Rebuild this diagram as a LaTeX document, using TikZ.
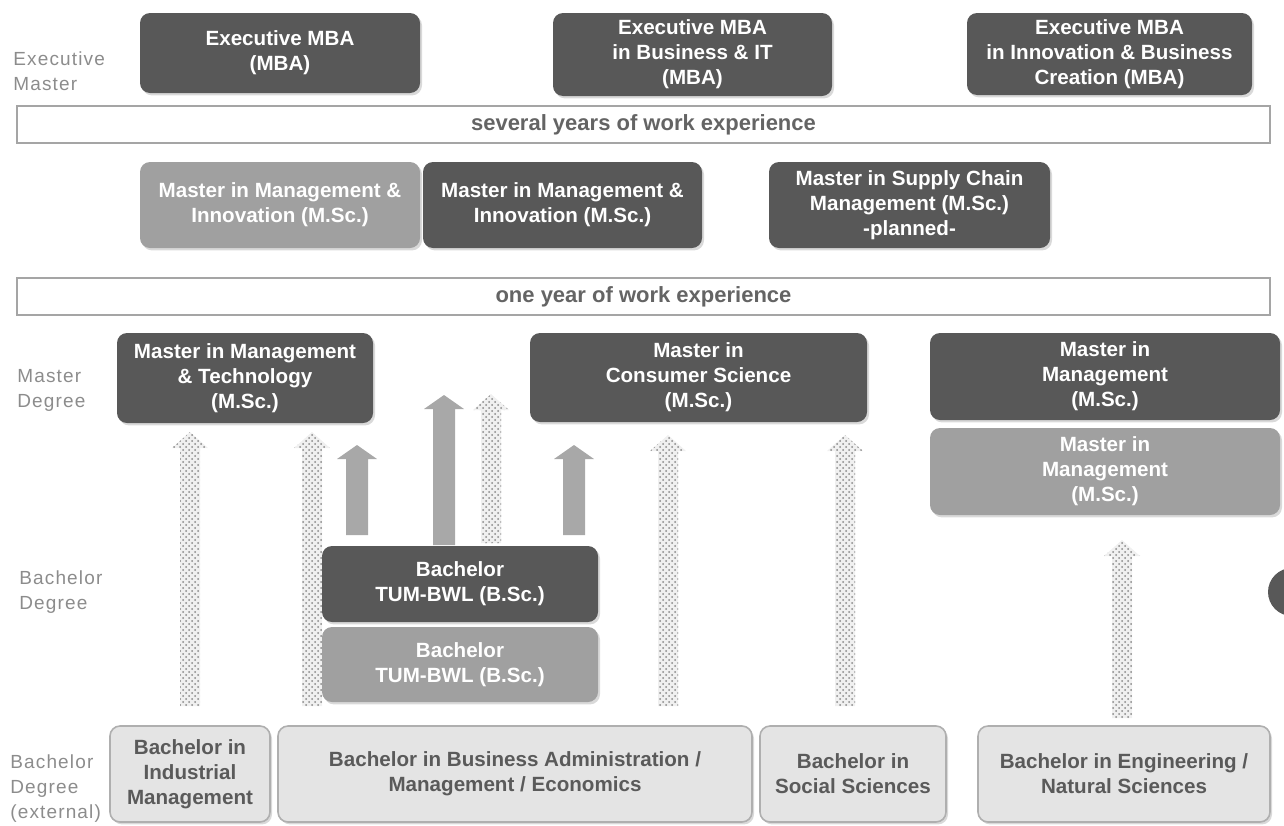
\documentclass[tikz,border=0pt]{standalone}
\usepackage{fontspec}
\setmainfont{Liberation Sans}
\newfontfamily\sidefont[LetterSpace=6]{Liberation Sans}
\usetikzlibrary{shadows, patterns}
\definecolor{boxdark}{RGB}{88,88,88}
\definecolor{boxlight}{RGB}{160,160,160}
\definecolor{boxpale}{RGB}{228,228,228}
\definecolor{paleedge}{RGB}{175,175,175}
\definecolor{basetext}{RGB}{90,90,90}
\definecolor{sidetext}{RGB}{140,140,140}
\definecolor{baredge}{RGB}{165,165,165}
\definecolor{bartext}{RGB}{100,100,100}
\definecolor{arrowgray}{RGB}{168,168,168}
\definecolor{dotgray}{RGB}{135,135,135}
\tikzset{
  softshadow/.style={drop shadow={opacity=0.3, shadow xshift=1pt, shadow yshift=-1.2pt}},
  darkbox/.style={rounded corners=5pt, fill=boxdark, text=white, softshadow},
  lightbox/.style={darkbox, fill=boxlight},
  basebox/.style={rounded corners=5pt, fill=boxpale, draw=paleedge, line width=0.8pt, text=basetext, softshadow},
  expbar/.style={draw=baredge, line width=1.2pt, fill=white, text=bartext, font=\fontsize{11}{13}\selectfont\bfseries},
  sidelabel/.style={font=\sidefont\fontsize{9.5}{12.5}\selectfont, text=sidetext, align=left, anchor=west},
  solidarrow/.style={fill=arrowgray},
  dotarrow/.style={preaction={fill=gray!12}, pattern=crosshatch dots, pattern color=dotgray}
}

\begin{document}
\begin{tikzpicture}[x=0.5pt, y=-0.5pt, every node/.style={font=\fontsize{10.3}{12.5}\selectfont\bfseries, align=center, inner sep=0pt}]
  \useasboundingbox (0,0) rectangle (1284,825);

  % dotted arrows (external entry paths)
  \foreach \ax/\ab/\at in {190/706/432, 312/706/432, 491/543/394, 668/706/435, 845/706/435, 1122/718/540}{
    \fill[dotarrow] (\ax-10,\ab) -- (\ax-10,\at+16) -- (\ax-18,\at+16) -- (\ax,\at)
      -- (\ax+18,\at+16) -- (\ax+10,\at+16) -- (\ax+10,\ab) -- cycle;
  }
  % solid arrows out of TUM-BWL
  \foreach \ax/\ab/\at in {357/535/445, 444/545/395, 574/535/445}{
    \fill[solidarrow] (\ax-11,\ab) -- (\ax-11,\at+14) -- (\ax-20,\at+14) -- (\ax,\at)
      -- (\ax+20,\at+14) -- (\ax+11,\at+14) -- (\ax+11,\ab) -- cycle;
  }

  % side labels
  \node[sidelabel] (lexec) at (13,71) {Executive\\Master};
  \node[sidelabel] (lmaster) at (17,390) {Master\\Degree};
  \node[sidelabel] (lbach) at (19,592) {Bachelor\\Degree};
  \node[sidelabel] (lext) at (10,789) {Bachelor\\Degree\\(external)};

  % executive master
  \node[darkbox, minimum width=140pt, minimum height=40pt] (emba) at (280,53) {Executive MBA\\(MBA)};
  \node[darkbox, minimum width=139.5pt, minimum height=41.5pt] (embait) at (692.5,54.5) {Executive MBA\\in Business \& IT\\(MBA)};
  \node[darkbox, minimum width=142.5pt, minimum height=41pt] (embaibc) at (1109.5,54) {Executive MBA\\in Innovation \& Business\\Creation (MBA)};
  \node[expbar, minimum width=626.5pt, minimum height=18.5pt] (years) at (643.5,124.5) {several years of work experience};

  % master with work experience
  \node[lightbox, minimum width=140pt, minimum height=43pt] (mmil) at (280,205) {Master in Management \&\\Innovation (M.Sc.)};
  \node[darkbox, minimum width=139.5pt, minimum height=43pt] (mmid) at (562.5,205) {Master in Management \&\\Innovation (M.Sc.)};
  \node[darkbox, minimum width=140.5pt, minimum height=43pt] (scm) at (909.5,205) {Master in Supply Chain\\Management (M.Sc.)\\-planned-};
  \node[expbar, minimum width=626.5pt, minimum height=18.5pt] (oneyear) at (643.5,296.5) {one year of work experience};

  % master degree
  \node[darkbox, minimum width=128pt, minimum height=45pt] (mmt) at (245,378) {Master in Management\\\& Technology\\(M.Sc.)};
  \node[darkbox, minimum width=168.5pt, minimum height=44.5pt] (mcs) at (698.5,377.5) {Master in\\Consumer Science\\(M.Sc.)};
  \node[darkbox, minimum width=175pt, minimum height=43.5pt] (mimd) at (1105,376.5) {Master in\\Management\\(M.Sc.)};
  \node[lightbox, minimum width=175pt, minimum height=43.5pt] (miml) at (1105,471.5) {Master in\\Management\\(M.Sc.)};

  % bachelor degree
  \node[darkbox, minimum width=138pt, minimum height=38pt] (bscd) at (460,584) {Bachelor\\TUM-BWL (B.Sc.)};
  \node[lightbox, minimum width=138pt, minimum height=37.5pt] (bscl) at (460,664.5) {Bachelor\\TUM-BWL (B.Sc.)};

  % external bachelor
  \node[basebox, minimum width=80pt, minimum height=48pt] (bim) at (190,774) {Bachelor in\\Industrial\\Management};
  \node[basebox, minimum width=237pt, minimum height=48pt] (bba) at (515,774) {Bachelor in Business Administration /\\Management / Economics};
  \node[basebox, minimum width=93pt, minimum height=48pt] (bss) at (853,774) {Bachelor in\\Social Sciences};
  \node[basebox, minimum width=146pt, minimum height=48pt] (ben) at (1124,774) {Bachelor in Engineering /\\Natural Sciences};

  % cut-off marker at the right edge
  \begin{scope}
    \clip (0,0) rectangle (1284,825);
    \fill[boxdark] (1292,592) circle (12pt);
  \end{scope}
\end{tikzpicture}
\end{document}
